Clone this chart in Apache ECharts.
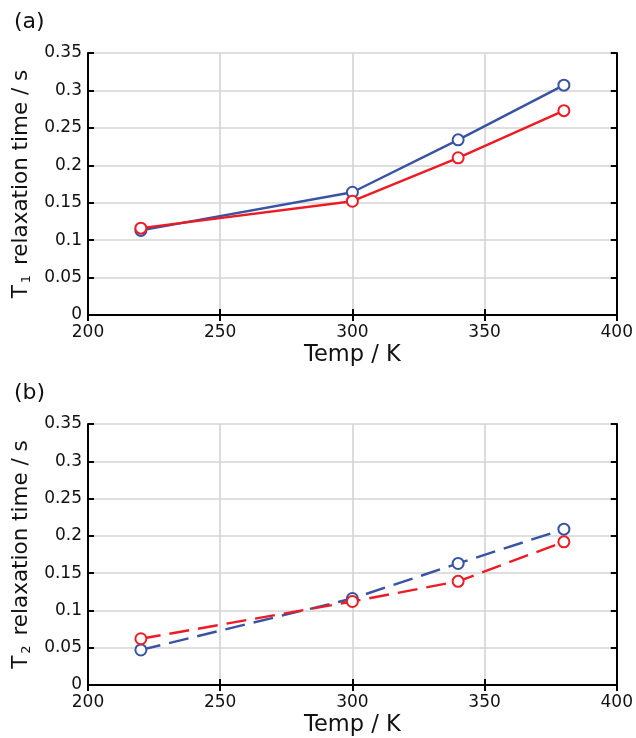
<!DOCTYPE html>
<html>
<head>
<meta charset="utf-8">
<script src="https://cdn.jsdelivr.net/npm/echarts@6/dist/echarts.min.js"></script>
<style>html,body{margin:0;padding:0;background:#fff}#c{width:636px;height:738px}</style>
</head>
<body>
<div id="c"></div>
<script>
const temps = [220, 300, 340, 380];
const t1Blue = [0.113, 0.164, 0.234, 0.307];
const t1Red = [0.116, 0.152, 0.210, 0.273];
const t2Blue = [0.047, 0.116, 0.163, 0.209];
const t2Red = [0.062, 0.112, 0.139, 0.192];
const xMin = 200, xMax = 400, xStep = 50;
const yMin = 0, yMax = 0.35, yStep = 0.05;
const panelLabels = ['(a)', '(b)'];
const yNames = [['T', '1', ' relaxation time / s'], ['T', '2', ' relaxation time / s']];
const xName = 'Temp / K';

const BLUE = '#3953a4', RED = '#ed1c24';
const FONT = 'DejaVu Sans, Verdana, sans-serif';
const TXT = '#111';
const chart = echarts.init(document.getElementById('c'));

const grids = [
  {left: 88, top: 53, width: 530, height: 262},
  {left: 88, top: 424, width: 530, height: 262}
];
const frameLine = {show: true, lineStyle: {color: '#000', width: 2}};
const tick = {show: true, inside: true, length: 6, lineStyle: {color: '#000', width: 2}};
const split = {show: true, lineStyle: {color: '#d4d4d4', width: 1.6}};

const xAxis = [], yAxis = [], series = [];
const pairs = [[t1Blue, t1Red], [t2Blue, t2Red]];
grids.forEach((g, i) => {
  xAxis.push({
    type: 'value', gridIndex: i, min: xMin, max: xMax, interval: xStep, position: 'bottom',
    axisLine: frameLine, axisTick: tick, splitLine: split,
    axisLabel: {color: TXT, fontSize: 17, fontFamily: FONT, margin: 9},
    name: xName, nameLocation: 'middle', nameGap: 29,
    nameTextStyle: {color: TXT, fontSize: 22.5, fontFamily: FONT}
  });
  xAxis.push({
    type: 'value', gridIndex: i, min: xMin, max: xMax, interval: xStep, position: 'top',
    axisLine: frameLine, axisTick: tick, splitLine: {show: false}, axisLabel: {show: false}
  });
  yAxis.push({
    type: 'value', gridIndex: i, min: yMin, max: yMax, interval: yStep, position: 'left',
    axisLine: frameLine, axisTick: tick, splitLine: split,
    axisLabel: {color: TXT, fontSize: 17, fontFamily: FONT, margin: 6},
    name: '{a|' + yNames[i][0] + '}{b|' + yNames[i][1] + '}{a|' + yNames[i][2] + '}',
    nameLocation: 'middle', nameGap: 54, nameRotate: 90,
    nameTextStyle: {
      color: TXT, fontFamily: FONT,
      rich: {
        a: {fontSize: 21.5, fontFamily: FONT, color: TXT, lineHeight: 26},
        b: {fontSize: 13, fontFamily: FONT, color: TXT, lineHeight: 26, padding: [11, 3, 0, 2]}
      }
    }
  });
  yAxis.push({
    type: 'value', gridIndex: i, min: yMin, max: yMax, interval: yStep, position: 'right',
    axisLine: frameLine, axisTick: tick, splitLine: {show: false}, axisLabel: {show: false}
  });
  const dashed = i === 1 ? [20, 9] : 'solid';
  [[pairs[i][0], BLUE], [pairs[i][1], RED]].forEach(([vals, col]) => {
    series.push({
      type: 'line', xAxisIndex: i * 2, yAxisIndex: i * 2,
      data: temps.map((t, k) => [t, vals[k]]),
      symbol: 'emptyCircle', symbolSize: 11, showSymbol: true,
      lineStyle: {color: col, width: 2.4, type: dashed},
      itemStyle: {color: col, borderColor: col, borderWidth: 1.8},
      animation: false, z: 3
    });
  });
});

chart.setOption({
  backgroundColor: '#fff',
  animation: false,
  grid: grids,
  xAxis: xAxis,
  yAxis: yAxis,
  series: series,
  title: [
    {text: panelLabels[0], left: 9, top: 6, textStyle: {fontSize: 22, fontWeight: 'normal', color: TXT, fontFamily: FONT}},
    {text: panelLabels[1], left: 9, top: 377, textStyle: {fontSize: 22, fontWeight: 'normal', color: TXT, fontFamily: FONT}}
  ]
});
</script>
</body>
</html>
